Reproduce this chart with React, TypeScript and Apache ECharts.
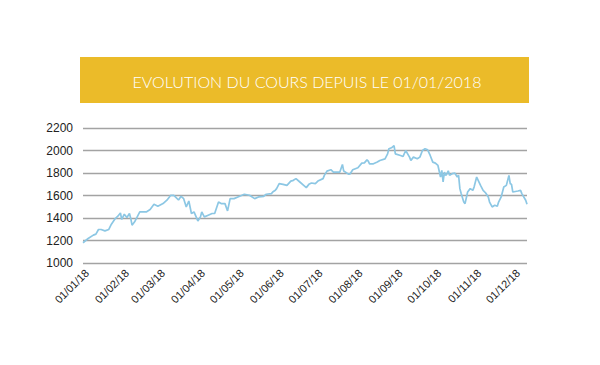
import React, { useEffect, useRef } from "react";
import * as echarts from "echarts";

// Days since 01/01/2018 (0 = 01/01/18) and closing values
const days = [
  -3, 1, 5, 7, 9, 11, 14, 17, 19, 22, 24, 26, 27, 29, 31, 33, 34, 35, 37, 39,
  41, 46, 49, 52, 55, 59, 62, 65, 67, 68, 71, 73, 75, 77, 79, 81, 83, 86, 88, 89,
  91, 94, 97, 99, 102, 104, 107, 109, 111, 114, 117, 122, 126, 130, 133, 137, 139, 143, 144, 146,
  147, 149, 152, 155, 158, 160, 162, 165, 168, 170, 172, 174, 177, 179, 183, 184, 186, 189, 191, 194,
  196, 198, 199, 203, 204, 206, 210, 213, 215, 217, 218, 219, 222, 225, 227, 231, 233, 234, 236, 238,
  239, 243, 245, 247, 250, 251, 253, 256, 258, 260, 262, 264, 266, 268, 270, 272, 274, 275, 276, 277,
  278, 279, 280, 281, 283, 285, 287, 288, 289, 290, 292, 293, 295, 297, 299, 300, 302, 305, 307, 309,
  311, 312, 314, 316, 318, 319, 321, 323, 325, 327, 328, 329, 330, 334, 336, 337, 340, 341,
];
const values = [
  1180, 1218, 1248, 1257, 1298, 1298, 1286, 1298, 1345, 1395, 1416, 1445, 1387, 1434, 1404, 1440, 1396, 1336, 1366, 1410,
  1454, 1454, 1475, 1522, 1504, 1528, 1558, 1602, 1602, 1595, 1560, 1593, 1572, 1498, 1551, 1440, 1454, 1374, 1410, 1454,
  1410, 1425, 1440, 1440, 1542, 1528, 1528, 1463, 1572, 1572, 1587, 1611, 1602, 1572, 1587, 1593, 1611, 1617, 1631, 1646,
  1661, 1705, 1699, 1690, 1728, 1735, 1750, 1720, 1690, 1670, 1699, 1711, 1705, 1728, 1750, 1779, 1817, 1829, 1808, 1808,
  1808, 1876, 1817, 1788, 1794, 1829, 1847, 1888, 1890, 1917, 1905, 1882, 1882, 1897, 1911, 1926, 1970, 2015, 2024, 2044,
  1970, 1956, 1947, 2000, 1941, 1911, 1941, 1926, 1941, 2000, 2015, 2006, 1956, 1897, 1888, 1867, 1764, 1823, 1720, 1808,
  1779, 1794, 1820, 1779, 1794, 1800, 1764, 1779, 1661, 1617, 1542, 1528, 1631, 1661, 1646, 1675, 1764, 1690, 1646, 1622,
  1587, 1542, 1498, 1513, 1504, 1542, 1587, 1675, 1690, 1779, 1705, 1699, 1631, 1640, 1646, 1617, 1558, 1522,
];

const monthStarts = [0, 31, 59, 90, 120, 151, 181, 212, 243, 273, 304, 334];
const monthLabels = [
  "01/01/18", "01/02/18", "01/03/18", "01/04/18", "01/05/18", "01/06/18",
  "01/07/18", "01/08/18", "01/09/18", "01/10/18", "01/11/18", "01/12/18",
];
const yTicks = [1000, 1200, 1400, 1600, 1800, 2000, 2200];
const title = "EVOLUTION DU COURS DEPUIS LE 01/01/2018";

export default function App() {
  const ref = useRef<HTMLDivElement>(null);
  useEffect(() => {
    document.body.style.margin = "0";
    if (!ref.current) return;
    const chart = echarts.init(ref.current, null, { renderer: "svg" });
    const data = days.map((d, i) => [d, values[i]]);
    chart.setOption({
      animation: false,
      backgroundColor: "#ffffff",
      graphic: [
        {
          type: "rect",
          shape: { x: 80, y: 57, width: 449, height: 46 },
          style: { fill: "#EBBB29" },
        },
        {
          type: "text",
          x: 307,
          y: 81,
          style: {
            text: title,
            fill: "#ffffff",
            fontFamily: "Lato",
            fontWeight: 300,
            fontSize: 16,
            align: "center",
            verticalAlign: "middle",
          },
        },
      ],
      grid: { left: 83, right: 73, top: 128, bottom: 102 },
      xAxis: {
        type: "value",
        min: -3,
        max: 341,
        axisLine: { show: false },
        axisTick: { show: false },
        splitLine: { show: false },
        axisLabel: {
          customValues: monthStarts,
          rotate: 45,
          margin: 8,
          fontSize: 11,
          color: "#222",
          fontFamily: "Liberation Sans",
          formatter: (v: number) => {
            const i = monthStarts.indexOf(v);
            return i >= 0 ? monthLabels[i] : "";
          },
        },
      },
      yAxis: {
        type: "value",
        min: yTicks[0],
        max: yTicks[yTicks.length - 1],
        interval: 200,
        axisLine: { show: false },
        axisTick: { show: false },
        axisLabel: {
          fontSize: 12,
          color: "#222",
          margin: 10,
          fontFamily: "Liberation Sans",
          formatter: (v: number) => String(v),
        },
        splitLine: { lineStyle: { color: "#a3a3a3", width: 1.3 } },
      },
      series: [
        {
          type: "line",
          data,
          showSymbol: false,
          lineStyle: { color: "#8CC7E4", width: 1.7 },
        },
      ],
    });
    return () => chart.dispose();
  }, []);
  return <div ref={ref} style={{ width: 600, height: 365 }} />;
}
